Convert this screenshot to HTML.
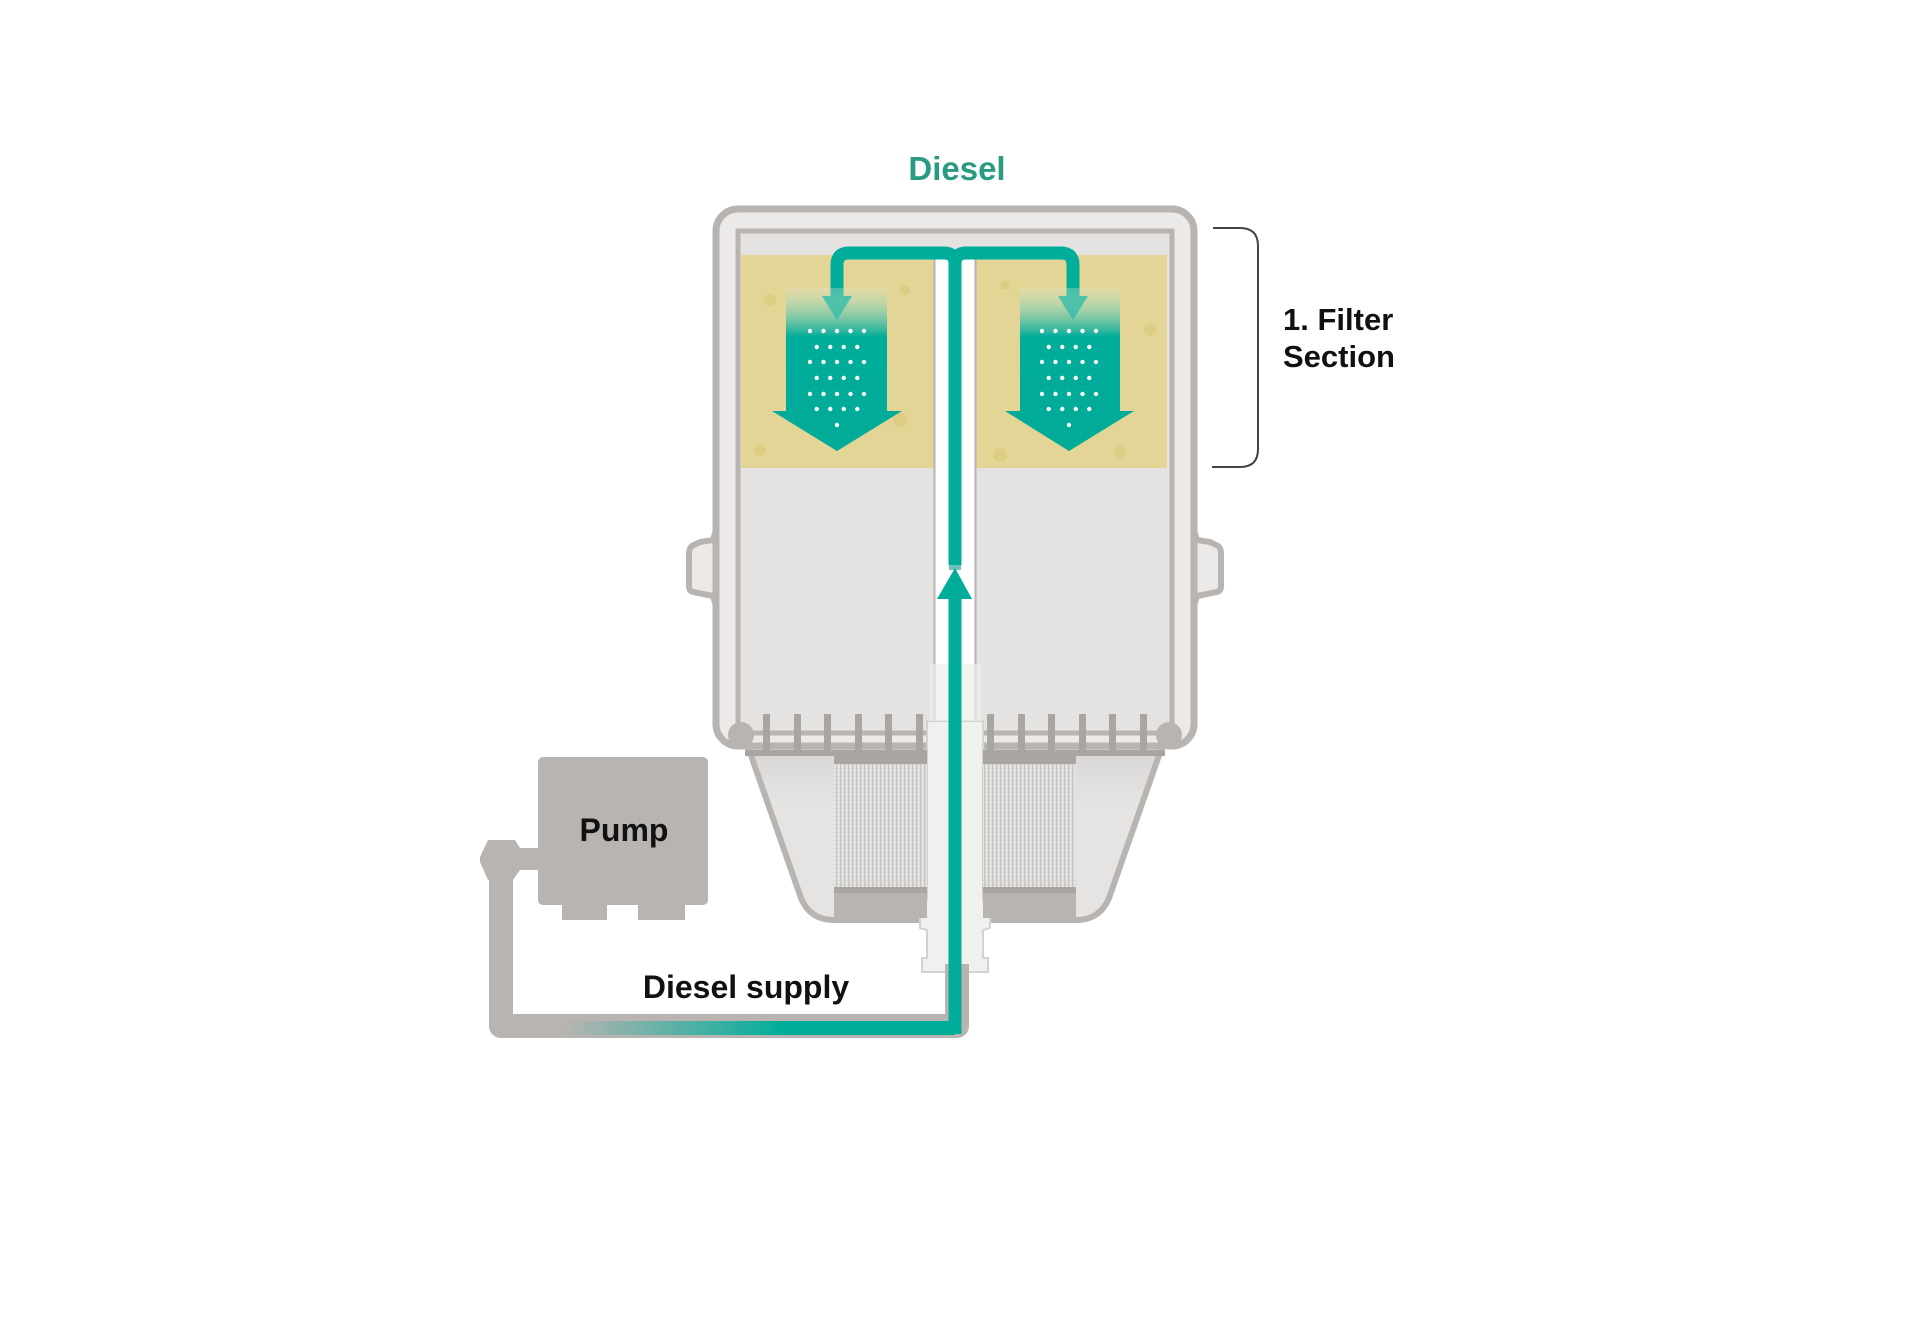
<!DOCTYPE html>
<html><head><meta charset="utf-8"><style>
html,body{margin:0;padding:0;background:#fff;}
svg{display:block;}
text{font-family:"Liberation Sans",Arial,sans-serif;font-weight:bold;}
</style></head><body>
<svg width="1920" height="1333" viewBox="0 0 1920 1333" xmlns="http://www.w3.org/2000/svg">
<defs>
<linearGradient id="arr" x1="0" y1="0" x2="0" y2="1">
<stop offset="0" stop-color="#dfe6c8" stop-opacity="0.3"/>
<stop offset="0.3" stop-color="#00ad9a"/>
<stop offset="1" stop-color="#00ab98"/>
</linearGradient>
<linearGradient id="pipe" gradientUnits="userSpaceOnUse" x1="520" y1="0" x2="960" y2="0">
<stop offset="0" stop-color="#b8b4b1"/>
<stop offset="0.1" stop-color="#b8b4b1"/>
<stop offset="0.6" stop-color="#00ad9a"/>
<stop offset="1" stop-color="#00ad9a"/>
</linearGradient>
<linearGradient id="bowl" x1="0" y1="0" x2="0" y2="1">
<stop offset="0" stop-color="#d8d6d5"/>
<stop offset="0.35" stop-color="#e5e4e3"/>
<stop offset="1" stop-color="#e5e4e3"/>
</linearGradient>
<pattern id="mesh" width="4" height="4" patternUnits="userSpaceOnUse">
<rect width="4" height="4" fill="#e6e5e4"/>
<rect x="0" width="1.3" height="4" fill="#c4c1bf"/>
<rect y="0" width="4" height="0.6" fill="#d2d0ce"/>
</pattern>
</defs>

<text x="957" y="180" font-size="33" fill="#2a9a83" text-anchor="middle">Diesel</text>

<!-- ears -->
<path d="M716,530 L713,540 L700,542 L692,546 Q689,548 689,554 L689,586 Q689,591 693,592 L713,596 L716,606 Z" fill="#ebeae9" stroke="#b8b4b1" stroke-width="6"/>
<path d="M1194,530 L1197,540 L1210,542 L1218,546 Q1221,548 1221,554 L1221,586 Q1221,591 1217,592 L1197,596 L1194,606 Z" fill="#ebeae9" stroke="#b8b4b1" stroke-width="6"/>

<!-- bowl -->
<path d="M747,744 L801,898 Q810,920 834,920 L1076,920 Q1100,920 1109,898 L1163,744 Z" fill="url(#bowl)" stroke="#b8b4b1" stroke-width="6"/>

<!-- housing -->
<rect x="716" y="209" width="478" height="537" rx="22" fill="#ebeae9" stroke="#b8b4b1" stroke-width="7"/>
<rect x="738" y="231" width="434" height="502" fill="#e4e3e2" stroke="#b8b4b1" stroke-width="5"/>

<!-- yellow media -->
<rect x="741" y="255" width="426" height="213" fill="#e3d595"/>
<g fill="#d9c978" opacity="0.6">
<circle cx="770" cy="300" r="6"/><circle cx="900" cy="420" r="7"/><circle cx="1150" cy="330" r="6"/><circle cx="1000" cy="455" r="7"/><circle cx="760" cy="450" r="6"/><circle cx="1120" cy="452" r="6"/><circle cx="905" cy="290" r="5"/><circle cx="1005" cy="285" r="5"/>
</g>

<!-- center tube -->
<rect x="934" y="255" width="42" height="480" fill="#ffffff"/>
<line x1="934.5" y1="255" x2="934.5" y2="735" stroke="#b8b4b1" stroke-width="2"/>
<line x1="975.5" y1="255" x2="975.5" y2="735" stroke="#b8b4b1" stroke-width="2"/>

<!-- lower center piece -->
<path d="M927,721 L983,721 L983,900 L990,910 L990,928 L983,930 L983,958 L988,958 L988,972 L922,972 L922,958 L927,958 L927,930 L920,928 L920,910 L927,900 Z" fill="#f0f0ef" stroke="#d4d2d0" stroke-width="2"/>
<rect x="929" y="664" width="52" height="57" fill="#ececeb" opacity="0.7"/>

<!-- comb bars -->
<rect x="745" y="750" width="182" height="6" fill="#a9a5a2"/>
<rect x="983" y="750" width="182" height="6" fill="#a9a5a2"/>
<g fill="#a9a5a2">
<rect x="763" y="714" width="7" height="38"/><rect x="794" y="714" width="7" height="38"/><rect x="824" y="714" width="7" height="38"/><rect x="855" y="714" width="7" height="38"/><rect x="885" y="714" width="7" height="38"/><rect x="916" y="714" width="7" height="38"/>
<rect x="987" y="714" width="7" height="38"/><rect x="1018" y="714" width="7" height="38"/><rect x="1048" y="714" width="7" height="38"/><rect x="1079" y="714" width="7" height="38"/><rect x="1109" y="714" width="7" height="38"/><rect x="1140" y="714" width="7" height="38"/>
</g>
<circle cx="741" cy="735" r="13" fill="#b8b4b1"/>
<circle cx="1169" cy="735" r="13" fill="#b8b4b1"/>

<!-- mesh element -->
<rect x="834" y="764" width="93" height="123" fill="url(#mesh)"/>
<rect x="983" y="764" width="93" height="123" fill="url(#mesh)"/>
<rect x="834" y="756" width="93" height="8" fill="#a9a5a2"/>
<rect x="983" y="756" width="93" height="8" fill="#a9a5a2"/>
<rect x="834" y="887" width="93" height="6" fill="#a9a5a2"/>
<rect x="983" y="887" width="93" height="6" fill="#a9a5a2"/>
<rect x="834" y="893" width="93" height="25" fill="#b8b4b1"/>
<rect x="983" y="893" width="93" height="25" fill="#b8b4b1"/>

<!-- supply pipe (gray) -->
<path d="M501,862 L501,1026 L957,1026 L957,964" fill="none" stroke="#b8b4b1" stroke-width="24" stroke-linejoin="round"/>
<path d="M480,857 L488,840 L515,840 L520,848 L540,848 L540,870 L520,870 L513,880 L488,880 L480,862 Z" fill="#b8b4b1"/>
<!-- teal supply -->
<path d="M520,1028 L955,1028" fill="none" stroke="url(#pipe)" stroke-width="14"/>
<path d="M955,1034 L955,590" fill="none" stroke="#00ad9a" stroke-width="13"/>
<rect x="949" y="545" width="12" height="25" fill="#0c9a8a" opacity="0.6"/>
<polygon points="955,568 972,599 937,599" fill="#00ad9a"/>

<!-- pump -->
<rect x="538" y="757" width="170" height="148" rx="5" fill="#b8b4b1"/>
<rect x="562" y="900" width="45" height="20" fill="#b8b4b1"/>
<rect x="638" y="900" width="47" height="20" fill="#b8b4b1"/>
<text x="624" y="841" font-size="32" fill="#111" text-anchor="middle">Pump</text>
<text x="746" y="998" font-size="32" fill="#111" text-anchor="middle">Diesel supply</text>

<!-- top teal flow -->
<path d="M955,565 L955,264 Q955,253 944,253 L849,253 Q837,253 837,265 L837,300" fill="none" stroke="#00ad9a" stroke-width="13"/>
<path d="M955,264 Q955,253 966,253 L1061,253 Q1073,253 1073,265 L1073,300" fill="none" stroke="#00ad9a" stroke-width="13"/>
<polygon points="822,296 852,296 837,320" fill="#00ad9a"/>
<polygon points="1058,296 1088,296 1073,320" fill="#00ad9a"/>

<!-- big arrows -->
<polygon points="786,288 887,288 887,411 902,411 837,451 772,411 786,411" fill="url(#arr)"/>
<polygon points="1020,288 1120,288 1120,411 1134,411 1069,451 1005,411 1020,411" fill="url(#arr)"/>
<g fill="#ffffff">
<g id="dl">
<circle cx="810" cy="331" r="2.2"/><circle cx="823.5" cy="331" r="2.2"/><circle cx="837" cy="331" r="2.2"/><circle cx="850.5" cy="331" r="2.2"/><circle cx="864" cy="331" r="2.2"/>
<circle cx="816.75" cy="347" r="2.2"/><circle cx="830.25" cy="347" r="2.2"/><circle cx="843.75" cy="347" r="2.2"/><circle cx="857.25" cy="347" r="2.2"/>
<circle cx="810" cy="362" r="2.2"/><circle cx="823.5" cy="362" r="2.2"/><circle cx="837" cy="362" r="2.2"/><circle cx="850.5" cy="362" r="2.2"/><circle cx="864" cy="362" r="2.2"/>
<circle cx="816.75" cy="378" r="2.2"/><circle cx="830.25" cy="378" r="2.2"/><circle cx="843.75" cy="378" r="2.2"/><circle cx="857.25" cy="378" r="2.2"/>
<circle cx="810" cy="394" r="2.2"/><circle cx="823.5" cy="394" r="2.2"/><circle cx="837" cy="394" r="2.2"/><circle cx="850.5" cy="394" r="2.2"/><circle cx="864" cy="394" r="2.2"/>
<circle cx="816.75" cy="409" r="2.2"/><circle cx="830.25" cy="409" r="2.2"/><circle cx="843.75" cy="409" r="2.2"/><circle cx="857.25" cy="409" r="2.2"/>
<circle cx="837" cy="425" r="2.2"/>
</g>
<use href="#dl" x="232"/>
</g>

<!-- bracket -->
<path d="M1213,228 L1240,228 Q1258,228 1258,246 L1258,449 Q1258,467 1240,467 L1212,467" fill="none" stroke="#444" stroke-width="2"/>
<text x="1283" y="330" font-size="31" fill="#111">1. Filter</text>
<text x="1283" y="367" font-size="31" fill="#111">Section</text>
</svg>
</body></html>
